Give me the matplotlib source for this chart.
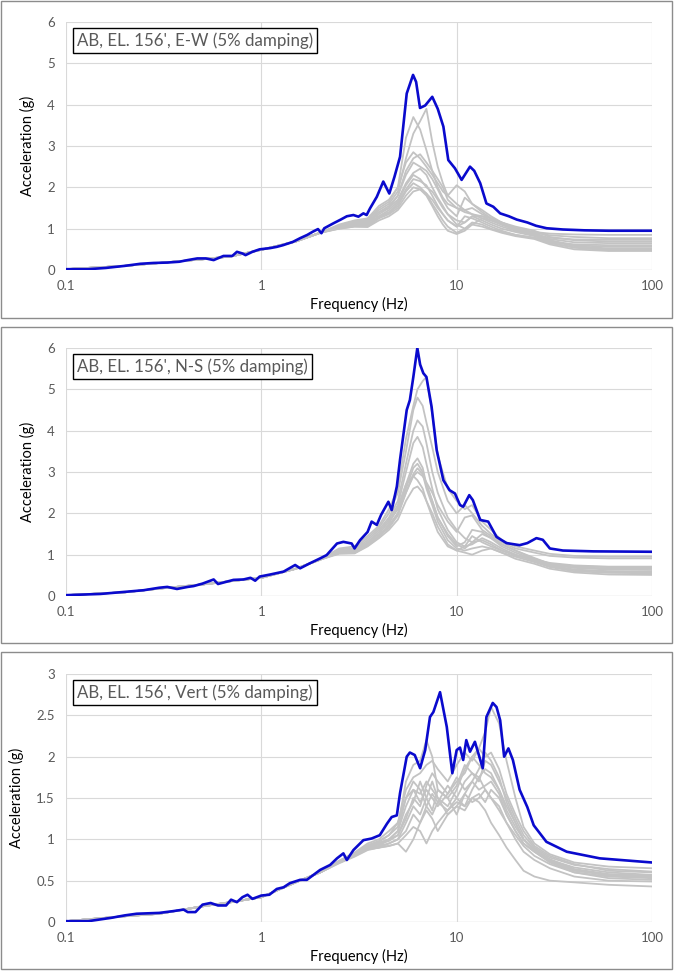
import matplotlib
matplotlib.use("Agg")
import matplotlib.pyplot as plt
from matplotlib.patches import Rectangle

plt.rcParams['font.family'] = ['Lato', 'DejaVu Sans']

# ---------------- data ----------------
x_ticks = [0.1, 1, 10, 100]
x_tick_labels = ['0.1', '1', '10', '100']

# panel 1 : E-W
title_ew = "AB, EL. 156', E-W (5% damping)"
freq_ew = [0.1, 0.13, 0.16, 0.2, 0.24, 0.28, 0.33, 0.38, 0.42, 0.47, 0.52, 0.57, 0.64, 0.71,
           0.75, 0.8, 0.83, 0.9, 0.98, 1.11, 1.2, 1.29, 1.45, 1.58, 1.72, 1.84, 1.95, 2.03,
           2.1, 2.34, 2.55, 2.74, 2.96, 3.14, 3.33, 3.46, 3.6, 3.9, 4.21, 4.52, 4.8, 5.13,
           5.55, 5.98, 6.2, 6.49, 6.9, 7.5, 8.0, 8.55, 9.06, 9.8, 10.6, 11.7, 12.3, 13.2,
           14.2, 15.4, 16.7, 18.5, 20.3, 23.0, 25.5, 28.9, 35.0, 45.0, 60.0, 100.0]
env_ew = [0.02, 0.02, 0.05, 0.1, 0.15, 0.17, 0.18, 0.2, 0.24, 0.28, 0.28, 0.24, 0.34, 0.34,
          0.44, 0.4, 0.36, 0.44, 0.5, 0.53, 0.56, 0.6, 0.68, 0.77, 0.85, 0.93, 0.99, 0.89,
          1.01, 1.13, 1.22, 1.3, 1.33, 1.29, 1.37, 1.33, 1.49, 1.77, 2.14, 1.85, 2.25, 2.74,
          4.27, 4.72, 4.55, 3.92, 3.98, 4.19, 3.9, 3.47, 2.66, 2.46, 2.18, 2.5, 2.4, 2.1,
          1.61, 1.53, 1.37, 1.3, 1.22, 1.15, 1.07, 1.01, 0.98, 0.96, 0.95, 0.95]

freq_ew_runs = [0.1, 0.2, 0.3, 0.5, 0.7, 1.0, 1.5, 2.0, 2.5, 3.0, 3.5, 4.0, 4.5, 5.0, 5.5, 6.0,
                6.5, 7.0, 7.5, 8.0, 8.5, 9.0, 10.0, 11.0, 12.0, 13.5, 15.0, 17.0, 20.0, 25.0,
                30.0, 40.0, 60.0, 100.0]
runs_ew = [
    [0.02, 0.1, 0.17, 0.26, 0.33, 0.49, 0.69, 0.9, 1.1, 1.2, 1.25, 1.55, 1.7, 2.0, 3.2, 3.7,
     3.4, 2.9, 2.4, 2.0, 1.75, 1.6, 1.5, 1.4, 1.35, 1.25, 1.2, 1.1, 1.0, 0.92, 0.88, 0.86, 0.85, 0.85],
    [0.02, 0.1, 0.17, 0.26, 0.33, 0.49, 0.69, 0.9, 1.08, 1.18, 1.22, 1.45, 1.6, 1.9, 2.7, 3.3,
     3.6, 3.9, 3.1, 2.5, 2.1, 1.8, 1.6, 1.45, 1.35, 1.3, 1.25, 1.15, 1.02, 0.9, 0.84, 0.8, 0.77, 0.77],
    [0.02, 0.1, 0.17, 0.26, 0.33, 0.49, 0.69, 0.9, 1.07, 1.15, 1.2, 1.5, 1.65, 2.0, 2.6, 2.85,
     2.7, 2.5, 2.3, 2.1, 1.9, 1.8, 2.05, 1.9, 1.6, 1.4, 1.25, 1.1, 0.98, 0.85, 0.78, 0.74, 0.73, 0.73],
    [0.02, 0.1, 0.17, 0.26, 0.33, 0.49, 0.69, 0.9, 1.05, 1.13, 1.18, 1.4, 1.55, 1.8, 2.4, 2.7,
     2.8, 2.6, 2.4, 2.2, 2.0, 1.7, 1.5, 1.45, 1.5, 1.35, 1.25, 1.15, 1.05, 0.95, 0.8, 0.72, 0.69, 0.69],
    [0.02, 0.1, 0.17, 0.26, 0.33, 0.49, 0.69, 0.9, 1.05, 1.12, 1.15, 1.4, 1.5, 1.8, 2.3, 2.6,
     2.5, 2.4, 2.2, 1.95, 1.7, 1.5, 1.3, 1.75, 1.6, 1.45, 1.3, 1.15, 1.0, 0.9, 0.75, 0.67, 0.65, 0.65],
    [0.02, 0.1, 0.17, 0.26, 0.33, 0.49, 0.69, 0.9, 1.05, 1.12, 1.15, 1.35, 1.5, 1.7, 2.1, 2.35,
     2.45, 2.3, 2.0, 1.75, 1.55, 1.35, 1.2, 1.15, 1.3, 1.2, 1.1, 1.0, 0.92, 0.82, 0.68, 0.62, 0.6, 0.6],
    [0.02, 0.1, 0.17, 0.26, 0.33, 0.49, 0.69, 0.9, 1.03, 1.1, 1.12, 1.3, 1.45, 1.65, 2.05, 2.3,
     2.2, 2.0, 1.9, 1.7, 1.5, 1.35, 1.1, 1.0, 1.1, 1.25, 1.15, 1.05, 0.95, 0.85, 0.72, 0.6, 0.56, 0.56],
    [0.02, 0.1, 0.17, 0.26, 0.33, 0.49, 0.69, 0.9, 1.02, 1.08, 1.1, 1.3, 1.4, 1.6, 1.95, 2.2,
     2.15, 2.05, 1.8, 1.55, 1.35, 1.2, 1.05, 1.15, 1.3, 1.3, 1.2, 1.1, 0.98, 0.88, 0.7, 0.58, 0.52, 0.52],
    [0.02, 0.1, 0.17, 0.26, 0.33, 0.49, 0.69, 0.9, 1.02, 1.07, 1.08, 1.28, 1.38, 1.55, 1.9, 2.1,
     2.0, 1.85, 1.6, 1.4, 1.2, 1.05, 0.9, 1.0, 1.15, 1.1, 1.0, 0.92, 0.85, 0.78, 0.66, 0.54, 0.48, 0.48],
    [0.02, 0.1, 0.17, 0.26, 0.33, 0.49, 0.69, 0.9, 1.0, 1.05, 1.05, 1.25, 1.35, 1.5, 1.8, 2.0,
     1.95, 1.8, 1.55, 1.3, 1.1, 0.95, 0.87, 0.95, 1.1, 1.05, 0.98, 0.9, 0.82, 0.75, 0.62, 0.5, 0.46, 0.46],
    [0.02, 0.1, 0.17, 0.26, 0.33, 0.49, 0.69, 0.9, 1.0, 1.05, 1.04, 1.2, 1.3, 1.45, 1.7, 1.9,
     1.95, 1.85, 1.7, 1.5, 1.35, 1.2, 1.05, 1.3, 1.25, 1.15, 1.05, 0.95, 0.85, 0.78, 0.65, 0.55, 0.5, 0.5],
]

# panel 2 : N-S
title_ns = "AB, EL. 156', N-S (5% damping)"
freq_ns = [0.1, 0.15, 0.2, 0.25, 0.3, 0.33, 0.37, 0.42, 0.45, 0.5, 0.57, 0.6, 0.72, 0.81, 0.88,
           0.93, 0.98, 1.11, 1.3, 1.49, 1.58, 1.77, 2.0, 2.16, 2.44, 2.63, 2.9, 3.0, 3.2, 3.5,
           3.67, 3.9, 4.1, 4.47, 4.65, 4.94, 5.13, 5.55, 5.76, 6.0, 6.29, 6.5, 6.75, 7.0, 7.44,
           7.9, 8.55, 9.2, 9.8, 10.4, 10.8, 11.6, 12.1, 13.2, 14.5, 16.0, 18.0, 21.0, 23.0,
           25.6, 27.6, 30.0, 35.0, 50.0, 100.0]
env_ns = [0.02, 0.05, 0.1, 0.14, 0.2, 0.22, 0.17, 0.22, 0.24, 0.3, 0.4, 0.29, 0.39, 0.4, 0.44,
          0.37, 0.47, 0.52, 0.59, 0.75, 0.67, 0.79, 0.91, 0.99, 1.27, 1.31, 1.27, 1.15, 1.35, 1.55,
          1.8, 1.72, 1.96, 2.28, 2.08, 2.65, 3.3, 4.5, 4.74, 5.3, 6.0, 5.6, 5.39, 5.3, 4.58,
          3.53, 2.8, 2.56, 2.48, 2.2, 2.16, 2.44, 2.32, 1.84, 1.8, 1.43, 1.28, 1.23, 1.28,
          1.4, 1.36, 1.15, 1.1, 1.08, 1.07]

freq_ns_runs = [0.1, 0.2, 0.3, 0.5, 0.7, 1.0, 1.5, 2.0, 2.5, 3.0, 3.5, 4.0, 4.5, 5.0, 5.5, 6.0,
                6.3, 6.7, 7.0, 7.5, 8.0, 9.0, 10.0, 11.0, 12.0, 13.5, 15.0, 17.0, 20.0, 25.0,
                30.0, 40.0, 60.0, 100.0]
runs_ns = [
    [0.02, 0.09, 0.18, 0.28, 0.36, 0.44, 0.66, 0.88, 1.15, 1.2, 1.45, 1.7, 2.1, 2.6, 3.8, 4.6,
     5.0, 5.2, 5.3, 4.4, 3.4, 2.6, 2.3, 2.1, 2.2, 1.8, 1.6, 1.35, 1.2, 1.1, 1.02, 0.97, 0.95, 0.95],
    [0.02, 0.09, 0.18, 0.28, 0.36, 0.44, 0.66, 0.88, 1.13, 1.15, 1.4, 1.65, 2.0, 2.5, 3.5, 4.5,
     4.8, 4.6, 4.2, 3.6, 3.0, 2.3, 2.0, 2.2, 2.0, 1.7, 1.5, 1.3, 1.15, 1.05, 0.97, 0.93, 0.91, 0.91],
    [0.02, 0.09, 0.18, 0.28, 0.36, 0.44, 0.66, 0.88, 1.1, 1.12, 1.35, 1.6, 1.9, 2.3, 3.2, 4.0,
     4.25, 4.1, 3.7, 3.0, 2.5, 1.9, 1.6, 1.4, 1.3, 1.35, 1.25, 1.1, 0.98, 0.88, 0.8, 0.74, 0.71, 0.71],
    [0.02, 0.09, 0.18, 0.28, 0.36, 0.44, 0.66, 0.88, 1.08, 1.1, 1.3, 1.55, 1.85, 2.2, 3.0, 3.7,
     3.85, 3.6, 3.2, 2.6, 2.1, 1.6, 1.3, 1.2, 1.25, 1.4, 1.3, 1.15, 1.0, 0.85, 0.75, 0.69, 0.67, 0.67],
    [0.02, 0.09, 0.18, 0.28, 0.36, 0.44, 0.66, 0.88, 1.08, 1.08, 1.3, 1.5, 1.8, 2.1, 2.7, 3.2,
     3.33, 3.1, 2.7, 2.3, 1.9, 1.5, 1.25, 1.15, 1.3, 1.5, 1.4, 1.25, 1.1, 0.92, 0.78, 0.68, 0.64, 0.63],
    [0.02, 0.09, 0.18, 0.28, 0.36, 0.44, 0.66, 0.88, 1.05, 1.06, 1.25, 1.45, 1.7, 2.0, 2.6, 3.1,
     3.2, 3.0, 2.7, 2.3, 1.9, 1.45, 1.2, 1.3, 1.6, 1.55, 1.4, 1.2, 1.05, 0.88, 0.74, 0.64, 0.6, 0.59],
    [0.02, 0.09, 0.18, 0.28, 0.36, 0.44, 0.66, 0.88, 1.05, 1.05, 1.25, 1.45, 1.65, 1.95, 2.5, 2.95,
     3.09, 2.95, 2.6, 2.2, 1.8, 1.35, 1.15, 1.1, 1.15, 1.2, 1.15, 1.05, 0.95, 0.82, 0.7, 0.6, 0.56, 0.55],
    [0.02, 0.09, 0.18, 0.28, 0.36, 0.44, 0.66, 0.88, 1.02, 1.03, 1.2, 1.4, 1.6, 1.85, 2.3, 2.6,
     2.65, 2.5, 2.3, 2.0, 1.68, 1.25, 1.1, 1.05, 1.0, 1.1, 1.15, 1.05, 0.9, 0.78, 0.66, 0.57, 0.52, 0.51],
    [0.02, 0.09, 0.18, 0.28, 0.36, 0.44, 0.66, 0.88, 1.05, 1.05, 1.25, 1.45, 1.7, 2.0, 2.5, 2.9,
     3.0, 2.9, 2.75, 2.5, 2.2, 1.8, 1.55, 1.9, 1.95, 1.6, 1.45, 1.25, 1.1, 0.9, 0.78, 0.72, 0.7, 0.69],
    [0.02, 0.09, 0.18, 0.28, 0.36, 0.44, 0.66, 0.88, 1.04, 1.04, 1.22, 1.42, 1.75, 2.15, 2.7, 2.9,
     2.8, 2.6, 2.3, 1.9, 1.55, 1.2, 1.1, 1.2, 1.45, 1.3, 1.2, 1.1, 1.0, 0.85, 0.72, 0.63, 0.59, 0.57],
]

# panel 3 : Vert
title_vt = "AB, EL. 156', Vert (5% damping)"
freq_vt = [0.1, 0.13, 0.17, 0.2, 0.23, 0.3, 0.35, 0.4, 0.42, 0.46, 0.5, 0.55, 0.6, 0.66, 0.7,
           0.75, 0.8, 0.85, 0.9, 1.0, 1.1, 1.2, 1.3, 1.4, 1.58, 1.71, 2.0, 2.25, 2.44, 2.63,
           2.74, 2.96, 3.33, 3.67, 4.04, 4.4, 4.65, 4.94, 5.13, 5.55, 5.76, 6.1, 6.5, 6.9, 7.3,
           7.6, 8.22, 8.9, 9.5, 10.0, 10.4, 10.8, 11.2, 11.7, 12.4, 13.6, 14.2, 15.3, 16.0,
           16.7, 17.5, 18.4, 19.4, 21.0, 23.0, 24.8, 28.8, 36.6, 54.0, 100.0]
env_vt = [0.01, 0.01, 0.05, 0.08, 0.1, 0.11, 0.13, 0.15, 0.12, 0.12, 0.21, 0.23, 0.2, 0.2, 0.27,
          0.24, 0.3, 0.33, 0.28, 0.32, 0.33, 0.4, 0.42, 0.47, 0.51, 0.51, 0.63, 0.69, 0.77, 0.83,
          0.75, 0.87, 0.99, 1.01, 1.05, 1.19, 1.27, 1.29, 1.56, 2.0, 2.05, 2.02, 1.86, 2.08, 2.48,
          2.54, 2.78, 2.36, 1.8, 2.08, 2.11, 1.96, 2.2, 2.06, 2.18, 1.86, 2.48, 2.65, 2.6,
          2.44, 2.0, 2.1, 1.96, 1.6, 1.39, 1.17, 0.97, 0.85, 0.77, 0.72]

freq_vt_runs = [0.1, 0.2, 0.3, 0.5, 0.7, 1.0, 1.5, 2.0, 2.5, 3.0, 3.5, 4.0, 4.5, 5.0, 5.5, 6.0,
                6.5, 7.0, 7.5, 8.0, 9.0, 10.0, 11.0, 12.0, 13.0, 14.0, 15.0, 16.5, 18.0, 20.0,
                22.0, 25.0, 30.0, 40.0, 60.0, 100.0]
runs_vt = [
    [0.01, 0.07, 0.1, 0.19, 0.24, 0.3, 0.48, 0.6, 0.74, 0.84, 0.95, 1.0, 1.1, 1.2, 1.5, 1.6,
     1.45, 1.6, 1.5, 1.4, 1.55, 1.7, 1.8, 2.0, 2.1, 2.3, 2.6, 2.4, 1.95, 1.5, 1.15, 0.95, 0.82, 0.72, 0.67, 0.65],
    [0.01, 0.07, 0.1, 0.19, 0.24, 0.3, 0.48, 0.6, 0.74, 0.83, 0.93, 0.98, 1.05, 1.15, 1.7, 1.9,
     1.95, 2.2, 2.0, 1.6, 1.5, 1.65, 1.9, 1.8, 1.7, 1.95, 1.9, 1.7, 1.5, 1.25, 1.05, 0.9, 0.78, 0.69, 0.64, 0.61],
    [0.01, 0.07, 0.1, 0.19, 0.24, 0.3, 0.48, 0.6, 0.73, 0.82, 0.92, 0.96, 1.0, 1.1, 1.4, 1.6,
     1.55, 1.7, 1.6, 1.5, 1.4, 1.6, 1.85, 2.0, 1.9, 1.8, 1.75, 1.6, 1.4, 1.2, 1.0, 0.88, 0.75, 0.66, 0.6, 0.57],
    [0.01, 0.07, 0.1, 0.19, 0.24, 0.3, 0.48, 0.6, 0.72, 0.8, 0.9, 0.95, 1.0, 1.05, 1.3, 1.45,
     1.7, 1.5, 1.35, 1.6, 1.5, 1.3, 1.55, 1.7, 1.6, 1.65, 1.7, 1.55, 1.3, 1.1, 0.95, 0.85, 0.73, 0.62, 0.57, 0.55],
    [0.01, 0.07, 0.1, 0.19, 0.24, 0.3, 0.48, 0.6, 0.72, 0.8, 0.9, 0.92, 0.95, 1.0, 1.1, 1.3,
     1.2, 1.4, 1.55, 1.45, 1.35, 1.5, 1.4, 1.6, 1.75, 1.6, 1.5, 1.4, 1.2, 1.05, 0.92, 0.8, 0.7, 0.6, 0.55, 0.53],
    [0.01, 0.07, 0.1, 0.19, 0.24, 0.3, 0.48, 0.6, 0.72, 0.8, 0.88, 0.9, 0.92, 0.95, 0.85, 1.0,
     1.2, 1.35, 1.25, 1.1, 1.3, 1.4, 1.35, 1.5, 1.55, 1.45, 1.6, 1.5, 1.3, 1.1, 0.95, 0.85, 0.72, 0.6, 0.53, 0.51],
    [0.01, 0.07, 0.1, 0.19, 0.24, 0.3, 0.48, 0.6, 0.72, 0.8, 0.88, 0.9, 0.92, 0.95, 1.05, 1.15,
     1.1, 0.95, 1.1, 1.2, 1.35, 1.45, 1.4, 1.5, 1.45, 1.35, 1.2, 1.05, 0.9, 0.75, 0.62, 0.55, 0.5, 0.48, 0.45, 0.43],
    [0.01, 0.07, 0.1, 0.19, 0.24, 0.3, 0.48, 0.6, 0.71, 0.79, 0.87, 0.9, 0.95, 1.0, 1.2, 1.4,
     1.3, 1.5, 1.7, 1.5, 1.3, 1.4, 1.55, 1.45, 1.5, 1.6, 1.5, 1.35, 1.2, 1.0, 0.85, 0.75, 0.65, 0.55, 0.5, 0.49],
    [0.01, 0.07, 0.1, 0.19, 0.24, 0.3, 0.48, 0.6, 0.72, 0.8, 0.88, 0.92, 1.0, 1.1, 1.5, 1.7,
     1.6, 1.4, 1.3, 1.45, 1.65, 1.5, 1.7, 1.8, 1.75, 1.85, 1.8, 1.6, 1.35, 1.15, 1.0, 0.88, 0.76, 0.64, 0.58, 0.56],
    [0.01, 0.07, 0.1, 0.19, 0.24, 0.3, 0.48, 0.6, 0.73, 0.82, 0.92, 0.97, 1.05, 1.2, 1.6, 1.75,
     1.8, 1.9, 1.95, 1.85, 1.7, 1.9, 2.05, 1.95, 2.1, 2.0, 2.05, 1.85, 1.55, 1.3, 1.1, 0.92, 0.8, 0.7, 0.62, 0.6],
    [0.01, 0.07, 0.1, 0.19, 0.24, 0.3, 0.48, 0.6, 0.72, 0.81, 0.9, 0.94, 0.98, 1.05, 1.25, 1.5,
     1.4, 1.65, 1.8, 1.7, 1.55, 1.75, 1.6, 1.7, 1.85, 2.05, 1.95, 1.75, 1.45, 1.2, 1.0, 0.86, 0.74, 0.63, 0.56, 0.54],
]

# ---------------- figure ----------------
fig = plt.figure(figsize=(6.74, 9.71), dpi=100)

GRAY_TXT = '#595959'
H = 971.0
W = 674.0


def draw_panel(top_px, bottom_px, frame_top, frame_bot, f_env, a_env, f_runs, runs,
               title, ymax, ystep, ylabels):
    # outer border of the chart area
    fig.patches.append(Rectangle((1 / W, 1 - frame_bot / H), 671 / W, (frame_bot - frame_top) / H,
                                 transform=fig.transFigure, fill=False,
                                 edgecolor='#8c8c8c', linewidth=1.0))
    ax = fig.add_axes([66 / W, 1 - bottom_px / H, 586 / W, (bottom_px - top_px) / H])
    for r in runs:
        ax.plot(f_runs, r, color='#c3c3c3', linewidth=1.3, zorder=2)
    ax.plot(f_env, a_env, color='#0a0acd', linewidth=1.9, zorder=3)

    ax.set_xscale('log')
    ax.set_xlim(0.1, 100)
    ax.set_ylim(0, ymax)
    ax.set_xticks(x_ticks)
    ax.set_xticklabels(x_tick_labels)
    ax.minorticks_off()
    yt = [i * ystep for i in range(len(ylabels))]
    ax.set_yticks(yt)
    ax.set_yticklabels(ylabels)
    ax.tick_params(length=0, labelsize=9.5, labelcolor=GRAY_TXT, pad=8)
    ax.tick_params(axis='x', pad=7)
    ax.grid(True, color='#d9d9d9', linewidth=0.8, zorder=0)
    for s in ax.spines.values():
        s.set_visible(False)
    ax.axhline(0, color='#d0d0d0', linewidth=0.9, zorder=1)
    ax.set_xlabel('Frequency (Hz)', fontsize=10.5, color='black', labelpad=4)
    ax.set_ylabel('Acceleration (g)', fontsize=10.5, color='black', labelpad=9)
    ax.text(0.019, 0.925, title, transform=ax.transAxes, fontsize=12.2, color=GRAY_TXT,
            ha='left', va='center', zorder=5,
            bbox=dict(boxstyle='square,pad=0.25', facecolor='white', edgecolor='black', linewidth=1.0))
    return ax


draw_panel(22, 270, 1, 318, freq_ew, env_ew, freq_ew_runs, runs_ew, title_ew,
           6, 1, ['0', '1', '2', '3', '4', '5', '6'])
draw_panel(348, 596, 327, 643, freq_ns, env_ns, freq_ns_runs, runs_ns, title_ns,
           6, 1, ['0', '1', '2', '3', '4', '5', '6'])
draw_panel(674, 922, 652, 969, freq_vt, env_vt, freq_vt_runs, runs_vt, title_vt,
           3, 0.5, ['0', '0.5', '1', '1.5', '2', '2.5', '3'])

fig.savefig('out.png', dpi=100)
